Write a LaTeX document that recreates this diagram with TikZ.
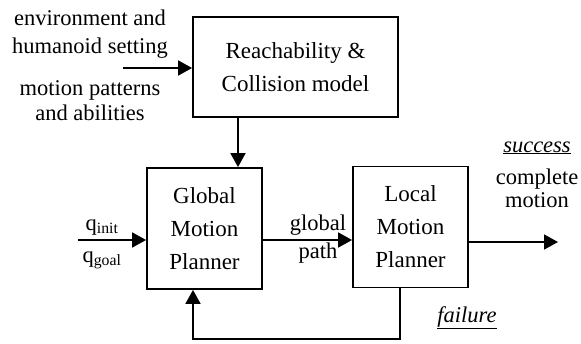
\documentclass[tikz,border=0pt]{standalone}
\usepackage{fontspec}
\setmainfont{Liberation Serif}
\usetikzlibrary{arrows.meta}
\begin{document}
\begin{tikzpicture}[x=1pt,y=-1pt,
  blk/.style={draw, line width=1.8pt, minimum width=115pt, minimum height=121pt, align=center, inner sep=0pt, font=\fontsize{23}{33}\selectfont},
  lbl/.style={font=\fontsize{22.5}{27}\selectfont, inner sep=0pt, anchor=base},
  conn/.style={line width=1.8pt, -{Triangle[length=14pt,width=15pt]}}]
\useasboundingbox (0,0) rectangle (581,343);
\node[blk, minimum width=205pt, minimum height=100pt] (reach) at (295.5,67) {Reachability \&\\Collision model};
\node[blk] (glob) at (204.5,228.5) {Global\\Motion\\Planner};
\node[blk] (loc) at (410.5,227) {Local\\Motion\\Planner};
% left labels
\node[lbl] (env1) at (90,25) {environment and};
\node[lbl] (env2) at (90,53) {humanoid setting};
\node[lbl] (mot1) at (90,95) {motion patterns};
\node[lbl] (mot2) at (90,120) {and abilities};
\coordinate (inR) at (123,68);
\draw[conn] (inR) -- (inR -| reach.west);
% reach to global
\coordinate (rg) at (238,0);
\draw[conn] (reach.south -| rg) -- (glob.north -| rg);
% input
\coordinate (qin) at (78,240);
\draw[conn] (qin) -- (qin -| glob.west);
\node[lbl] (qi) at (102,230) {q\textsubscript{init}};
\node[lbl] (qg) at (102,262) {q\textsubscript{goal}};
% global path
\coordinate (gp) at (0,240);
\draw[conn] (glob.east |- gp) -- (loc.west |- gp);
\node[lbl] (gpl1) at (318,230) {global};
\node[lbl] (gpl2) at (318,258) {path};
% output
\coordinate (out) at (558,242);
\draw[conn] (loc.east |- out) -- (out);
\node[lbl] (suc) at (537,152) {\underline{\textit{success}}};
\node[lbl] (cm1) at (537,184) {complete};
\node[lbl] (cm2) at (537,207) {motion};
% feedback
\coordinate (fb) at (400,339);
\coordinate (fbx) at (193,0);
\draw[conn] (loc.south -| fb) -- (fb) -- (fb -| fbx) -- (glob.south -| fbx);
\node[lbl] (fail) at (467,322) {\underline{\textit{failure}}};
\end{tikzpicture}
\end{document}
